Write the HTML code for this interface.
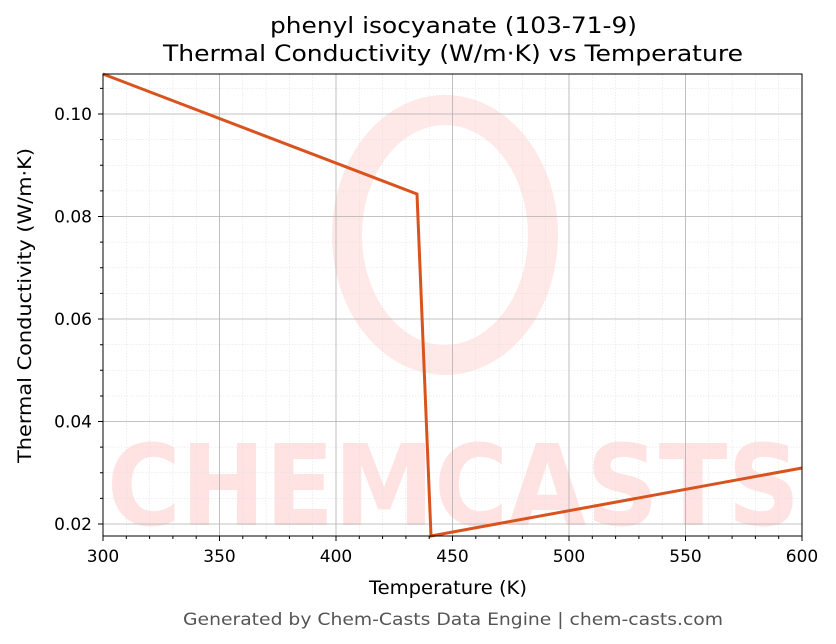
<!DOCTYPE html>
<html><head><style>body{margin:0;background:#fff}svg{display:block}text{font-family:"DejaVu Sans","Liberation Sans",sans-serif}</style></head><body>
<svg width="836" height="644" viewBox="0 0 836 644">
<rect width="836" height="644" fill="#fff"/>
<g opacity="0.12" fill="none" stroke="#f44">
<ellipse cx="445" cy="235" rx="98" ry="125" stroke-width="30"/>
</g>
<text x="107" y="525" font-size="112" font-weight="bold" fill="#fdd" textLength="693" lengthAdjust="spacingAndGlyphs" opacity="0.8">CHEMCASTS</text>
<g stroke="#ddd" stroke-width="0.5" stroke-dasharray="1.5,1.5">
<path d="M126.3 74V536M149.6 74V536M172.9 74V536M196.2 74V536M242.8 74V536M266.1 74V536M289.4 74V536M312.7 74V536M359.3 74V536M382.6 74V536M405.9 74V536M429.2 74V536M475.8 74V536M499.1 74V536M522.4 74V536M545.7 74V536M592.3 74V536M615.6 74V536M638.9 74V536M662.2 74V536M708.8 74V536M732.1 74V536M755.4 74V536M778.7 74V536"/>
<path d="M103 498.4H802M103 472.8H802M103 447.1H802M103 396H802M103 370.3H802M103 344.7H802M103 293.4H802M103 267.8H802M103 242.1H802M103 190.9H802M103 165.3H802M103 139.6H802M103 88.4H802"/>
</g>
<g stroke="#b0b0b0" stroke-width="0.8">
<path d="M219.5 74V536M336 74V536M452.5 74V536M569 74V536M685.5 74V536M103 524H802M103 421.5H802M103 319H802M103 216.5H802M103 114H802"/>
</g>
<polyline points="103,74 417,194 431,536 802,468" fill="none" stroke="#d9531e" stroke-width="3"/>
<rect x="103" y="74" width="699" height="462" fill="none" stroke="#000" stroke-width="1"/>
<g stroke="#000" stroke-width="1">
<path d="M103 536v5M219.5 536v5M336 536v5M452.5 536v5M569 536v5M685.5 536v5M802 536v5M103 524h-5M103 421.5h-5M103 319h-5M103 216.5h-5M103 114h-5"/>
<path d="M126.3 536v3M149.6 536v3M172.9 536v3M196.2 536v3M242.8 536v3M266.1 536v3M289.4 536v3M312.7 536v3M359.3 536v3M382.6 536v3M405.9 536v3M429.2 536v3M475.8 536v3M499.1 536v3M522.4 536v3M545.7 536v3M592.3 536v3M615.6 536v3M638.9 536v3M662.2 536v3M708.8 536v3M732.1 536v3M755.4 536v3M778.7 536v3M103 498.4h-3M103 472.8h-3M103 447.1h-3M103 396h-3M103 370.3h-3M103 344.7h-3M103 293.4h-3M103 267.8h-3M103 242.1h-3M103 190.9h-3M103 165.3h-3M103 139.6h-3M103 88.4h-3"/>
</g>
<g font-size="17" fill="#000" text-anchor="middle">
<text x="103" y="562">300</text><text x="219.5" y="562">350</text><text x="336" y="562">400</text><text x="452.5" y="562">450</text><text x="569" y="562">500</text><text x="685.5" y="562">550</text><text x="802" y="562">600</text>
</g>
<g font-size="17" fill="#000" text-anchor="end">
<text x="92" y="530">0.02</text><text x="92" y="427.5">0.04</text><text x="92" y="325">0.06</text><text x="92" y="222.5">0.08</text><text x="92" y="120">0.10</text>
</g>
<text x="369" y="594" font-size="19" textLength="158" lengthAdjust="spacingAndGlyphs">Temperature (K)</text>
<text transform="translate(31,463) rotate(-90)" font-size="19" textLength="315" lengthAdjust="spacingAndGlyphs">Thermal Conductivity (W/m·K)</text>
<text x="270" y="33" font-size="22" textLength="367" lengthAdjust="spacingAndGlyphs">phenyl isocyanate (103-71-9)</text>
<text x="163" y="61" font-size="22" textLength="580" lengthAdjust="spacingAndGlyphs">Thermal Conductivity (W/m·K) vs Temperature</text>
<text x="183" y="625" font-size="17" fill="#555" textLength="540" lengthAdjust="spacingAndGlyphs">Generated by Chem-Casts Data Engine | chem-casts.com</text>
</svg>
</body></html>
